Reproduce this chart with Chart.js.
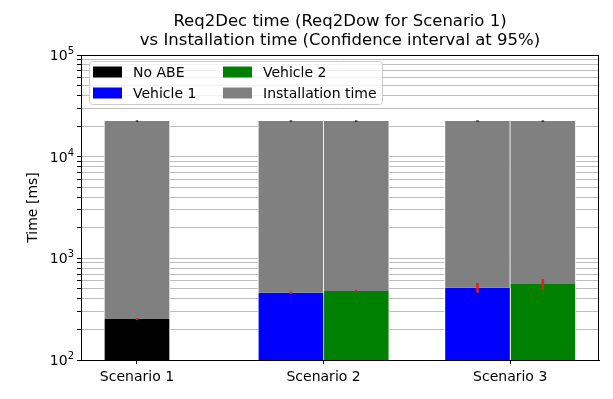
<!DOCTYPE html>
<html>
<head>
<meta charset="utf-8">
<script src="https://cdn.jsdelivr.net/npm/chart.js@4/dist/chart.umd.min.js"></script>
<style>
  body { margin: 0; background: #fff; }
  #wrap { width: 613px; height: 399px; position: relative; }
</style>
</head>
<body>
<div id="wrap"><canvas id="chart"></canvas></div>
<script>
// data
const scenarios = ["Scenario 1", "Scenario 2", "Scenario 3"];
const noAbe = [253];            // scenario 1 only
const noAbeErr = [6];
const vehicle1 = [459, 514];    // scenario 2, 3
const vehicle1Err = [12, 55];
const vehicle2 = [476, 558];    // scenario 2, 3
const vehicle2Err = [12, 70];
// installation time stacked on top: S1 noABE, S2 v1, S2 v2, S3 v1, S3 v2
const installation = [22150, 21940, 21920, 21890, 21840];
const installationErr = [300, 300, 300, 300, 300];
const yTickValues = [100, 1000, 10000, 100000];
const yExponents = ["2", "3", "4", "5"];

const FONT = "'DejaVu Sans', sans-serif";
const half = 0.175;

const noAbePts = noAbe.map((v) => ({ x: 0, y: v }));
const v1Pts = vehicle1.map((v, i) => ({ x: i + 1 - half, y: v }));
const v2Pts = vehicle2.map((v, i) => ({ x: i + 1 + half, y: v }));
const bottoms = [noAbePts[0], v1Pts[0], v2Pts[0], v1Pts[1], v2Pts[1]];
const installPts = installation.map((v, i) => ({ x: bottoms[i].x, y: v }));

// minor + major ticks for the log axis
const allY = [];
for (let e = 2; e <= 5; e++) {
    for (let m = 1; m <= 9; m++) {
        const v = m * Math.pow(10, e);
        if (v <= 100000) allY.push(v);
    }
}

const barStyle = { barThickness: 66, borderColor: "#fff", borderWidth: { left: 1, right: 1, top: 0, bottom: 0 }, borderSkipped: false, stack: "s" };

const extras = {
    id: "extras",
    afterDatasetsDraw(chart) {
        const ctx = chart.ctx;
        const y = chart.scales.y;
        const drawErr = (pts, errs, base, color) => {
            ctx.save();
            ctx.strokeStyle = color;
            ctx.lineWidth = 2.5;
            pts.forEach((p, i) => {
                const px = chart.scales.x.getPixelForValue(p.x);
                const top = (base ? base[i] : 0) + p.y;
                ctx.beginPath();
                ctx.moveTo(px, y.getPixelForValue(top - errs[i]));
                ctx.lineTo(px, y.getPixelForValue(top + errs[i]));
                ctx.stroke();
            });
            ctx.restore();
        };
        drawErr(noAbePts, noAbeErr, null, "#e02020");
        drawErr(v1Pts, vehicle1Err, null, "#e02020");
        drawErr(v2Pts, vehicle2Err, null, "#e02020");
        drawErr(installPts, installationErr, bottoms.map(b => b.y), "#000");
    },
    afterDraw(chart) {
        const ctx = chart.ctx;
        const a = chart.chartArea;
        const y = chart.scales.y;
        ctx.save();
        // box
        ctx.strokeStyle = "#000";
        ctx.lineWidth = 1;
        ctx.strokeRect(a.left + 0.5, a.top + 0.5, a.right - a.left - 1, a.bottom - a.top);
        // y tick labels with small exponent
        ctx.fillStyle = "#000";
        ctx.textBaseline = "alphabetic";
        yTickValues.forEach((v, i) => {
            const py = y.getPixelForValue(v);
            ctx.font = "10px " + FONT;
            ctx.textAlign = "right";
            const ew = ctx.measureText(yExponents[i]).width;
            ctx.fillText(yExponents[i], 74, py - 1);
            ctx.font = "14px " + FONT;
            ctx.fillText("10", 74 - ew, py + 5);
        });
        // title
        ctx.font = "16.5px " + FONT;
        ctx.textAlign = "center";
        ctx.textBaseline = "middle";
        const cx = (a.left + a.right) / 2;
        ctx.fillText("Req2Dec time (Req2Dow for Scenario 1)", cx, 22);
        ctx.fillText("vs Installation time (Confidence interval at 95%)", cx, 41);
        // y label
        ctx.save();
        ctx.translate(33, (a.top + a.bottom) / 2);
        ctx.rotate(-Math.PI / 2);
        ctx.font = "14px " + FONT;
        ctx.fillText("Time [ms]", 0, 0);
        ctx.restore();
        // legend
        const lx = 89, ly = 61, lw = 293, lh = 43;
        ctx.fillStyle = "rgba(255,255,255,0.8)";
        ctx.strokeStyle = "#cccccc";
        ctx.beginPath();
        ctx.roundRect(lx + 0.5, ly + 0.5, lw, lh, 3);
        ctx.fill();
        ctx.stroke();
        const items = [
            ["No ABE", "#000000", 93, 72],
            ["Vehicle 1", "#0000ff", 93, 93],
            ["Vehicle 2", "#008000", 223, 72],
            ["Installation time", "#808080", 223, 93]
        ];
        ctx.font = "14px " + FONT;
        ctx.textAlign = "left";
        items.forEach(([t, c, x, yy]) => {
            ctx.fillStyle = c;
            ctx.fillRect(x, yy - 5.5, 29, 11);
            ctx.fillStyle = "#000";
            ctx.fillText(t, x + 40, yy + 1);
        });
        ctx.restore();
    }
};

new Chart(document.getElementById("chart"), {
    type: "bar",
    data: {
        datasets: [
            Object.assign({ label: "No ABE", data: noAbePts, backgroundColor: "#000000" }, barStyle),
            Object.assign({ label: "Vehicle 1", data: v1Pts, backgroundColor: "#0000ff" }, barStyle),
            Object.assign({ label: "Vehicle 2", data: v2Pts, backgroundColor: "#008000" }, barStyle),
            Object.assign({ label: "Installation time", data: installPts, backgroundColor: "#808080" }, barStyle)
        ]
    },
    options: {
        responsive: true,
        maintainAspectRatio: false,
        animation: false,
        layout: { padding: { top: 55, right: 14, left: 0, bottom: 0 } },
        plugins: { legend: { display: false }, title: { display: false }, tooltip: { enabled: false } },
        scales: {
            x: {
                type: "linear",
                stacked: true,
                offset: false,
                bounds: "ticks",
                min: -0.30,
                max: 2.476,
                afterBuildTicks: (s) => { s.ticks = [0, 1, 2].map(v => ({ value: v })); },
                afterFit: (s) => { s.height = 39; },
                ticks: {
                    color: "#000",
                    font: { family: FONT, size: 14 },
                    padding: 5,
                    maxRotation: 0,
                    autoSkip: false,
                    callback: (v) => scenarios[v]
                },
                grid: { offset: false, drawOnChartArea: false, drawTicks: true, tickLength: 4, tickColor: "#000" },
                border: { color: "#000" }
            },
            y: {
                type: "logarithmic",
                stacked: true,
                min: 100,
                max: 100000,
                afterBuildTicks: (s) => { s.ticks = allY.map(v => ({ value: v })); },
                afterFit: (s) => { s.width = 81; },
                ticks: {
                    color: "#000",
                    font: { family: FONT, size: 13 },
                    padding: 3,
                    autoSkip: false,
                    callback: () => ""
                },
                grid: { color: "#bdbdbd", lineWidth: 1, tickLength: 4, tickColor: "#000" },
                border: { color: "#000" }
            }
        }
    },
    plugins: [extras]
});
</script>
</body>
</html>
